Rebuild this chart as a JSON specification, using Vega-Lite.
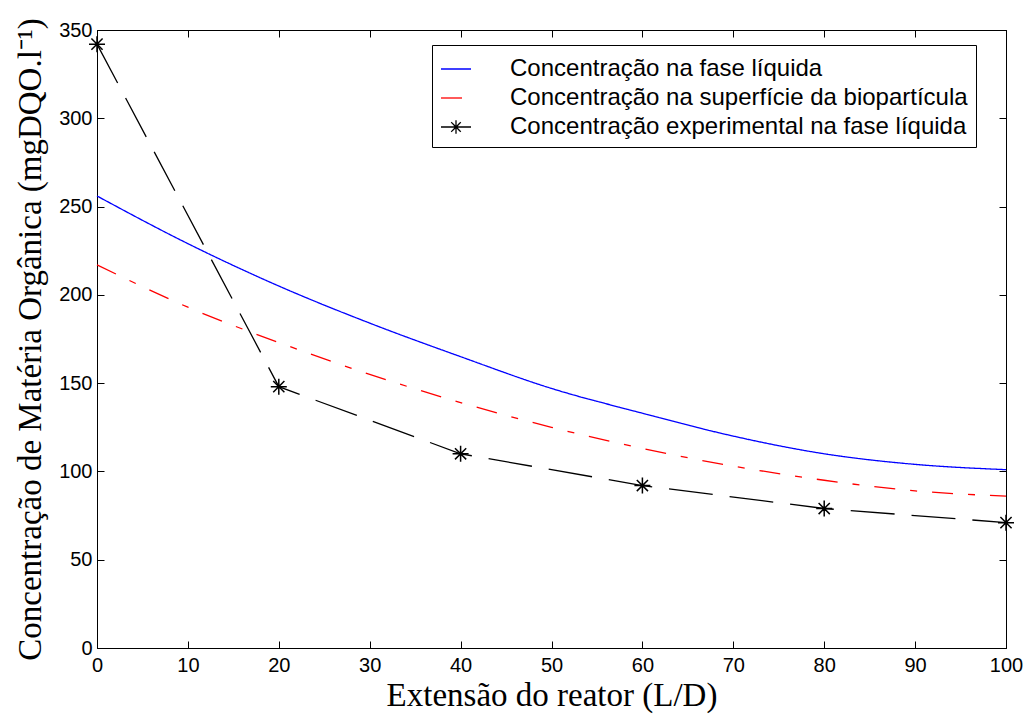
{
  "$schema": "https://vega.github.io/schema/vega-lite/v6.json",
  "width": 909,
  "height": 618,
  "autosize": "none",
  "padding": {"left": 97, "top": 30, "right": 25, "bottom": 74},
  "background": "white",
  "config": {
    "view": {"stroke": "black", "strokeWidth": 1},
    "axis": {
      "grid": false,
      "domainColor": "black",
      "tickColor": "black",
      "tickSize": -7,
      "labelColor": "black",
      "labelFont": "Liberation Sans",
      "labelFontSize": 20,
      "titleFont": "Liberation Serif",
      "titleFontSize": 33,
      "titleFontWeight": "normal",
      "titleColor": "black"
    }
  },
  "data": {
    "values": [
      {"serie": "Concentração na fase líquida", "x": 0, "y": 256},
      {"serie": "Concentração na fase líquida", "x": 10, "y": 229},
      {"serie": "Concentração na fase líquida", "x": 20, "y": 205},
      {"serie": "Concentração na fase líquida", "x": 30, "y": 184},
      {"serie": "Concentração na fase líquida", "x": 40, "y": 165},
      {"serie": "Concentração na fase líquida", "x": 50, "y": 147},
      {"serie": "Concentração na fase líquida", "x": 60, "y": 133},
      {"serie": "Concentração na fase líquida", "x": 70, "y": 120},
      {"serie": "Concentração na fase líquida", "x": 80, "y": 110},
      {"serie": "Concentração na fase líquida", "x": 90, "y": 104},
      {"serie": "Concentração na fase líquida", "x": 100, "y": 101},
      {"serie": "Concentração na superfície da biopartícula", "x": 0, "y": 217},
      {"serie": "Concentração na superfície da biopartícula", "x": 10, "y": 193},
      {"serie": "Concentração na superfície da biopartícula", "x": 20, "y": 173},
      {"serie": "Concentração na superfície da biopartícula", "x": 30, "y": 155},
      {"serie": "Concentração na superfície da biopartícula", "x": 40, "y": 139},
      {"serie": "Concentração na superfície da biopartícula", "x": 50, "y": 125},
      {"serie": "Concentração na superfície da biopartícula", "x": 60, "y": 113},
      {"serie": "Concentração na superfície da biopartícula", "x": 70, "y": 103},
      {"serie": "Concentração na superfície da biopartícula", "x": 80, "y": 95},
      {"serie": "Concentração na superfície da biopartícula", "x": 90, "y": 89},
      {"serie": "Concentração na superfície da biopartícula", "x": 100, "y": 86},
      {"serie": "Concentração experimental na fase líquida", "x": 0, "y": 342},
      {"serie": "Concentração experimental na fase líquida", "x": 20, "y": 148},
      {"serie": "Concentração experimental na fase líquida", "x": 40, "y": 110},
      {"serie": "Concentração experimental na fase líquida", "x": 60, "y": 92},
      {"serie": "Concentração experimental na fase líquida", "x": 80, "y": 79},
      {"serie": "Concentração experimental na fase líquida", "x": 100, "y": 71}
    ]
  },
  "resolve": {"axis": {"x": "independent", "y": "independent"}},
  "layer": [
    {
      "transform": [{"filter": "datum.serie != 'Concentração experimental na fase líquida'"}],
      "mark": {"type": "line", "interpolate": "monotone", "strokeWidth": 1.3},
      "encoding": {
        "x": {"field": "x", "type": "quantitative", "scale": {"domain": [0, 100], "nice": false},
          "axis": {"title": "Extensão do reator (L/D)", "values": [0,10,20,30,40,50,60,70,80,90,100], "labelPadding": 14, "titlePadding": 4, "labelFlush": false}},
        "y": {"field": "y", "type": "quantitative", "scale": {"domain": [0, 350], "nice": false},
          "axis": {"title": "Concentração de Matéria Orgânica (mgDQO.l⁻¹)", "values": [0,50,100,150,200,250,300,350], "labelPadding": 12, "titlePadding": 11, "labelFlush": false}},
        "color": {"field": "serie", "type": "nominal",
          "scale": {"domain": ["Concentração na fase líquida", "Concentração na superfície da biopartícula", "Concentração experimental na fase líquida"], "range": ["#0000ff", "#ff0000", "#000000"]},
          "legend": {
            "title": null, "orient": "none", "legendX": 335, "legendY": 15,
            "fillColor": "white", "strokeColor": "black", "padding": 8,
            "labelFont": "Liberation Sans", "labelFontSize": 24, "labelColor": "black", "labelLimit": 700,
            "symbolType": {"expr": "datum.value == 'Concentração experimental na fase líquida' ? 'M-1,0L1,0M0,-0.45L0,0.45M-0.45,0L0.45,0M-0.32,-0.32L0.32,0.32M-0.32,0.32L0.32,-0.32' : 'stroke'"},
            "symbolSize": 900, "symbolStrokeWidth": 1.3, "rowPadding": 1, "labelOffset": 38,
            "symbolLimit": 10
          }},
        "strokeDash": {"field": "serie", "type": "nominal",
          "scale": {"domain": ["Concentração na fase líquida", "Concentração na superfície da biopartícula", "Concentração experimental na fase líquida"], "range": [[1, 0], [21, 15, 7, 15], [1, 0]]},
          "legend": null}
      }
    },
    {
      "transform": [{"filter": "datum.serie == 'Concentração experimental na fase líquida'"}],
      "mark": {"type": "line", "interpolate": "linear", "strokeWidth": 1.3, "color": "black", "strokeDash": [44, 17]},
      "encoding": {
        "x": {"field": "x", "type": "quantitative", "scale": {"domain": [0, 100], "nice": false}, "axis": null},
        "y": {"field": "y", "type": "quantitative", "scale": {"domain": [0, 350], "nice": false}, "axis": null}
      }
    },
    {
      "transform": [{"filter": "datum.serie == 'Concentração experimental na fase líquida'"}],
      "mark": {"type": "point", "shape": "M-1,0L1,0M0,-1L0,1M-0.7,-0.7L0.7,0.7M-0.7,0.7L0.7,-0.7", "size": 256, "filled": false, "color": "black", "strokeWidth": 1.5, "opacity": 1},
      "encoding": {
        "x": {"field": "x", "type": "quantitative", "scale": {"domain": [0, 100], "nice": false}, "axis": {"orient": "top", "labels": false, "title": null, "values": [0,10,20,30,40,50,60,70,80,90,100]}},
        "y": {"field": "y", "type": "quantitative", "scale": {"domain": [0, 350], "nice": false}, "axis": {"orient": "right", "labels": false, "title": null, "values": [0,50,100,150,200,250,300,350]}}
      }
    }
  ]
}
